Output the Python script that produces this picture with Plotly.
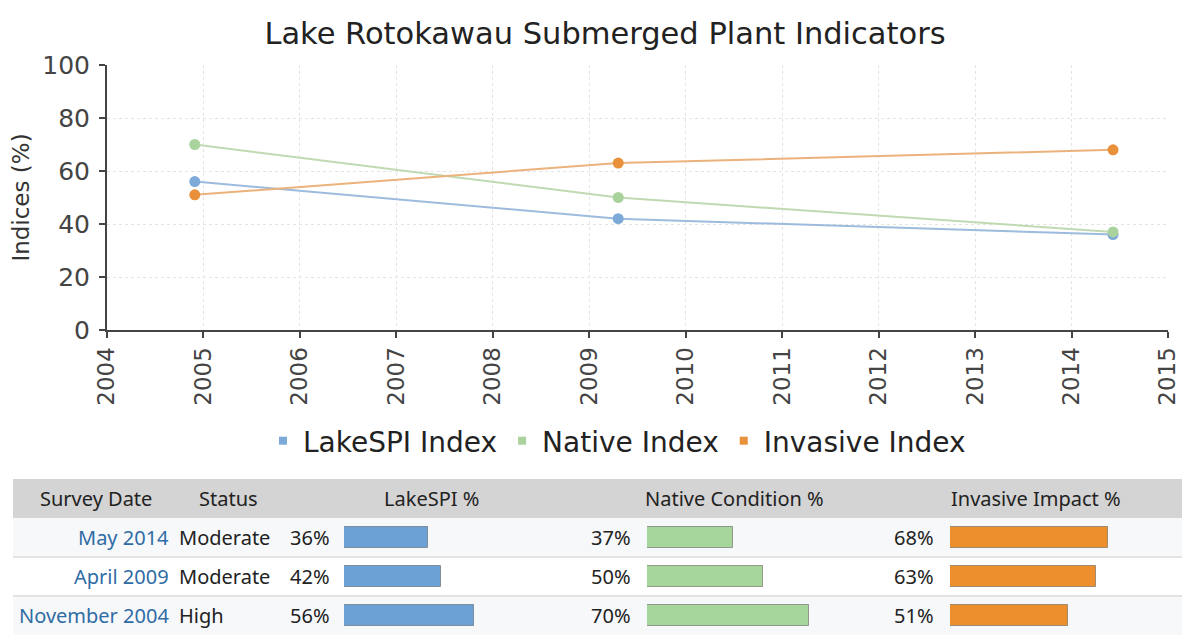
import plotly.graph_objects as go

W, H = 1182, 635

# ---------------- data (table order: newest first) ----------------
survey_labels = ["May 2014", "April 2009", "November 2004"]
survey_years = [2014.43, 2009.30, 2004.91]
status = ["Moderate", "Moderate", "High"]
lakespi = [36, 42, 56]
native = [37, 50, 70]
invasive = [68, 63, 51]

series_names = ["LakeSPI Index", "Native Index", "Invasive Index"]
table_headers = ["Survey Date", "Status", "LakeSPI %", "Native Condition %", "Invasive Impact %"]
year_ticks = list(range(2004, 2016))
y_ticks = [0, 20, 40, 60, 80, 100]

# ---------------- styles ----------------
line_colors = ["#9dbbdd", "#bfdab2", "#ebb27c"]
marker_colors = ["#7eaad9", "#a9d29c", "#e8913a"]
bar_colors = ["#6ba1d5", "#a7d69c", "#ee8f2d"]
FONT = "DejaVu Sans"
TFONT = "Noto Sans"


def px(x):
    return x / W


def py(y):
    return 1 - y / H


fig = go.Figure()

# ---------------- line chart ----------------
series_vals = [lakespi, native, invasive]
for name, vals, lc, mc in zip(series_names, series_vals, line_colors, marker_colors):
    order = sorted(range(len(survey_years)), key=lambda i: survey_years[i])
    fig.add_trace(go.Scatter(
        x=[survey_years[i] for i in order], y=[vals[i] for i in order],
        mode="lines+markers", name=name, showlegend=False,
        line=dict(color=lc, width=2), marker=dict(color=mc, size=11),
        xaxis="x", yaxis="y"))
for name, mc in zip(series_names, marker_colors):
    fig.add_trace(go.Scatter(
        x=[None], y=[None], mode="markers", name=name,
        marker=dict(color=mc, size=8, symbol="square"),
        xaxis="x", yaxis="y"))

# ---------------- table bars ----------------
rows = list(range(len(survey_labels)))
for vals, col, ax in zip(series_vals, bar_colors, ["x2", "x3", "x4"]):
    fig.add_trace(go.Bar(
        x=vals, y=rows, orientation="h", width=0.56, showlegend=False,
        marker=dict(color=col, line=dict(color="rgba(90,90,90,0.55)", width=1)),
        xaxis=ax, yaxis="y2", hoverinfo="skip"))

shapes = []
# header band
shapes.append(dict(type="rect", xref="paper", yref="paper",
                   x0=px(13), x1=1, y0=py(518), y1=py(479),
                   fillcolor="#d4d4d4", line=dict(width=0), layer="below"))
row_fill = ["#f7f8fa", "#ffffff", "#f7f8fa"]
for i in rows:
    shapes.append(dict(type="rect", xref="paper", yref="y2",
                       x0=px(13), x1=1, y0=i - 0.5, y1=i + 0.5,
                       fillcolor=row_fill[i], line=dict(width=0), layer="below"))
    if i > 0:
        shapes.append(dict(type="line", xref="paper", yref="y2",
                           x0=px(13), x1=1, y0=i - 0.5, y1=i - 0.5,
                           line=dict(color="#e3e3e3", width=2), layer="below"))

ann = []
hdr_x = [96, 228, 431, 734, 1036]
for t, hx in zip(table_headers, hdr_x):
    ann.append(dict(text=t, x=px(hx), y=py(498), xref="paper", yref="paper",
                    showarrow=False, xanchor="center", yanchor="middle",
                    font=dict(family=TFONT, size=20, color="#222")))
pct_x = [288, 589, 892]
for i in rows:
    ann.append(dict(text=survey_labels[i], x=px(171), y=i, xref="paper", yref="y2",
                    showarrow=False, xanchor="right", yanchor="middle",
                    font=dict(family=TFONT, size=20, color="#2f6ca5")))
    ann.append(dict(text=status[i], x=px(177), y=i, xref="paper", yref="y2",
                    showarrow=False, xanchor="left", yanchor="middle",
                    font=dict(family=TFONT, size=20, color="#222")))
    for vals, xx in zip(series_vals, pct_x):
        ann.append(dict(text=f"{vals[i]}%", x=px(xx), y=i, xref="paper", yref="y2",
                        showarrow=False, xanchor="left", yanchor="middle",
                        font=dict(family=TFONT, size=20, color="#222")))

hidden = dict(visible=False, range=[0, 100], fixedrange=True, automargin=False)

fig.update_layout(
    width=W, height=H,
    margin=dict(l=0, r=0, t=0, b=0, autoexpand=False),
    paper_bgcolor="white", plot_bgcolor="white",
    title=dict(text="Lake Rotokawau Submerged Plant Indicators",
               x=px(605), y=py(33), xref="paper", yref="paper",
               xanchor="center", yanchor="middle", automargin=False,
               font=dict(family=FONT, size=30.5, color="#222")),
    xaxis=dict(domain=[px(107), px(1168)], range=[2004, 2015],
               tickvals=year_ticks, ticktext=[str(v) for v in year_ticks],
               tickangle=-90, showline=True, linecolor="#444", linewidth=2,
               ticks="outside", ticklen=6, tickcolor="#444", tickwidth=2,
               showgrid=True, gridcolor="#e4e4e4", griddash="dot", gridwidth=1,
               zeroline=False, anchor="y", automargin=False,
               tickfont=dict(family=FONT, size=23, color="#444")),
    yaxis=dict(domain=[py(330), py(65)], range=[0, 100], tickvals=y_ticks,
               showline=True, linecolor="#444", linewidth=2,
               ticks="outside", ticklen=6, tickcolor="#444", tickwidth=2,
               showgrid=True, gridcolor="#e4e4e4", griddash="dot", gridwidth=1,
               zeroline=False, anchor="x", automargin=False,
               ticklabelstandoff=4,
               tickfont=dict(family=FONT, size=25, color="#444"),
               title=dict(text="Indices (%)", standoff=6,
                          font=dict(family=FONT, size=23, color="#333"))),
    xaxis2=dict(domain=[px(344), px(576)], anchor="y2", **hidden),
    xaxis3=dict(domain=[px(647), px(879)], anchor="y2", **hidden),
    xaxis4=dict(domain=[px(950), 1.0], anchor="y2", **hidden),
    yaxis2=dict(domain=[0, py(518)], range=[len(rows) - 0.5, -0.5],
                visible=False, anchor="x2", fixedrange=True, automargin=False),
    legend=dict(orientation="h", x=px(617), y=py(441), xanchor="center",
                yanchor="middle", font=dict(family=FONT, size=28, color="#222"),
                itemwidth=30, tracegroupgap=0, bgcolor="rgba(0,0,0,0)"),
    shapes=shapes, annotations=ann,
    bargap=0,
)

fig.write_html("out.html")
